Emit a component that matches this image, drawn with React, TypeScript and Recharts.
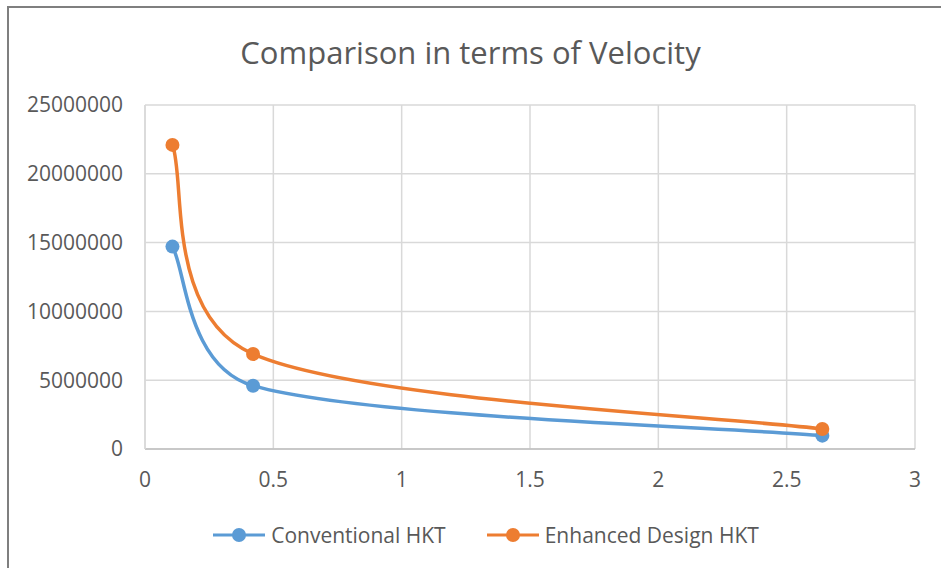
import React from "react";
import { LineChart, Line, XAxis, YAxis, CartesianGrid, Legend } from "recharts";

const xTicks = [0, 0.5, 1, 1.5, 2, 2.5, 3];
const yTicks = [0, 5000000, 10000000, 15000000, 20000000, 25000000];

const flowX = [0.107, 0.421, 2.639];
const conventional = [14710000, 4600000, 970000];
const enhanced = [22100000, 6900000, 1450000];

const seriesNames = ["Conventional HKT", "Enhanced Design HKT"];
const seriesColors = ["#5B9BD5", "#ED7D31"];

const conventionalData = flowX.map((x, i) => ({ x, y: conventional[i] }));
const enhancedData = flowX.map((x, i) => ({ x, y: enhanced[i] }));

const FONT = "'Open Sans', sans-serif";
const TEXT = "#595959";

// Excel-like smoothed scatter line: cardinal bezier, tension 1/6,
// control arm clamped against the length of the adjacent segment
const excelCurve = (context: any) => {
  let pts: number[][] = [];
  const dist = (a: number[], b: number[]) => Math.hypot(b[0] - a[0], b[1] - a[1]);
  return {
    areaStart() {},
    areaEnd() {},
    lineStart() {
      pts = [];
    },
    point(x: number, y: number) {
      pts.push([+x, +y]);
    },
    lineEnd() {
      if (!pts.length) return;
      context.moveTo(pts[0][0], pts[0][1]);
      const f = 1 / 6;
      const lim = 0.43;
      for (let i = 0; i < pts.length - 1; i++) {
        const p0 = pts[Math.max(i - 1, 0)];
        const p1 = pts[i];
        const p2 = pts[i + 1];
        const p3 = pts[Math.min(i + 2, pts.length - 1)];
        const seg = dist(p1, p2);
        let k1 = f;
        const d02 = dist(p0, p2);
        if (d02 > 0 && f * d02 > seg * lim) k1 = (seg * lim) / d02;
        let k2 = f;
        const d13 = dist(p1, p3);
        if (d13 > 0 && f * d13 > seg * lim) k2 = (seg * lim) / d13;
        const c1x = p1[0] + (p2[0] - p0[0]) * k1;
        const c1y = p1[1] + (p2[1] - p0[1]) * k1;
        const c2x = p2[0] - (p3[0] - p1[0]) * k2;
        const c2y = p2[1] - (p3[1] - p1[1]) * k2;
        context.bezierCurveTo(c1x, c1y, c2x, c2y, p2[0], p2[1]);
      }
    },
  };
};

const renderLegend = () => (
  <div
    style={{
      display: "flex",
      justifyContent: "center",
      alignItems: "center",
      fontFamily: FONT,
      fontSize: 21,
      color: TEXT,
      gap: 40,
      paddingLeft: 30,
    }}
  >
    {seriesNames.map((name, i) => (
      <div key={name} style={{ display: "flex", alignItems: "center" }}>
        <svg width={54} height={16} style={{ marginRight: 5 }}>
          <line x1={1} y1={8} x2={53} y2={8} stroke={seriesColors[i]} strokeWidth={3} />
          <circle cx={27} cy={8} r={7} fill={seriesColors[i]} />
        </svg>
        <span>{name}</span>
      </div>
    ))}
  </div>
);

const App: React.FC = () => {
  return (
    <div
      style={{
        position: "absolute",
        left: 0,
        top: 0,
        width: 941,
        height: 568,
        background: "#fff",
        overflow: "hidden",
      }}
    >
      <div
        style={{
          position: "absolute",
          left: 7,
          top: 6,
          width: 960,
          height: 600,
          borderLeft: "2px solid #7f7f7f",
          borderTop: "2px solid #7f7f7f",
        }}
      />
      <div
        style={{
          position: "absolute",
          left: 0,
          top: 31,
          width: 941,
          textAlign: "center",
          fontFamily: FONT,
          fontSize: 31,
          color: TEXT,
        }}
      >
        Comparison in terms of Velocity
      </div>
      <div style={{ position: "absolute", left: 0, top: 0 }}>
        <LineChart width={941} height={568} margin={{ top: 105, right: 26, bottom: 79, left: 0 }}>
          <CartesianGrid stroke="#D9D9D9" strokeWidth={1.5} />
          <XAxis
            dataKey="x"
            type="number"
            domain={[0, 3]}
            ticks={xTicks}
            allowDataOverflow
            tickLine={false}
            tickSize={0}
            tickMargin={23}
            height={40}
            axisLine={{ stroke: "#BFBFBF", strokeWidth: 1.5 }}
            tick={{ fill: TEXT, fontSize: 21, fontFamily: FONT }}
          />
          <YAxis
            dataKey="y"
            type="number"
            domain={[0, 25000000]}
            ticks={yTicks}
            width={145}
            tickLine={false}
            tickSize={0}
            tickMargin={22}
            axisLine={{ stroke: "#D9D9D9", strokeWidth: 1.5 }}
            tick={{ fill: TEXT, fontSize: 21, fontFamily: FONT }}
          />
          <Legend
            layout="horizontal"
            verticalAlign="middle"
            align="center"
            content={renderLegend}
            wrapperStyle={{ top: 521, left: 0, width: 941 }}
          />
          <Line
            data={conventionalData}
            dataKey="y"
            name={seriesNames[0]}
            type={excelCurve as any}
            stroke={seriesColors[0]}
            strokeWidth={3.5}
            dot={{ r: 7, fill: seriesColors[0], stroke: "none" }}
            isAnimationActive={false}
          />
          <Line
            data={enhancedData}
            dataKey="y"
            name={seriesNames[1]}
            type={excelCurve as any}
            stroke={seriesColors[1]}
            strokeWidth={3.5}
            dot={{ r: 7, fill: seriesColors[1], stroke: "none" }}
            isAnimationActive={false}
          />
        </LineChart>
      </div>
    </div>
  );
};

export default App;
